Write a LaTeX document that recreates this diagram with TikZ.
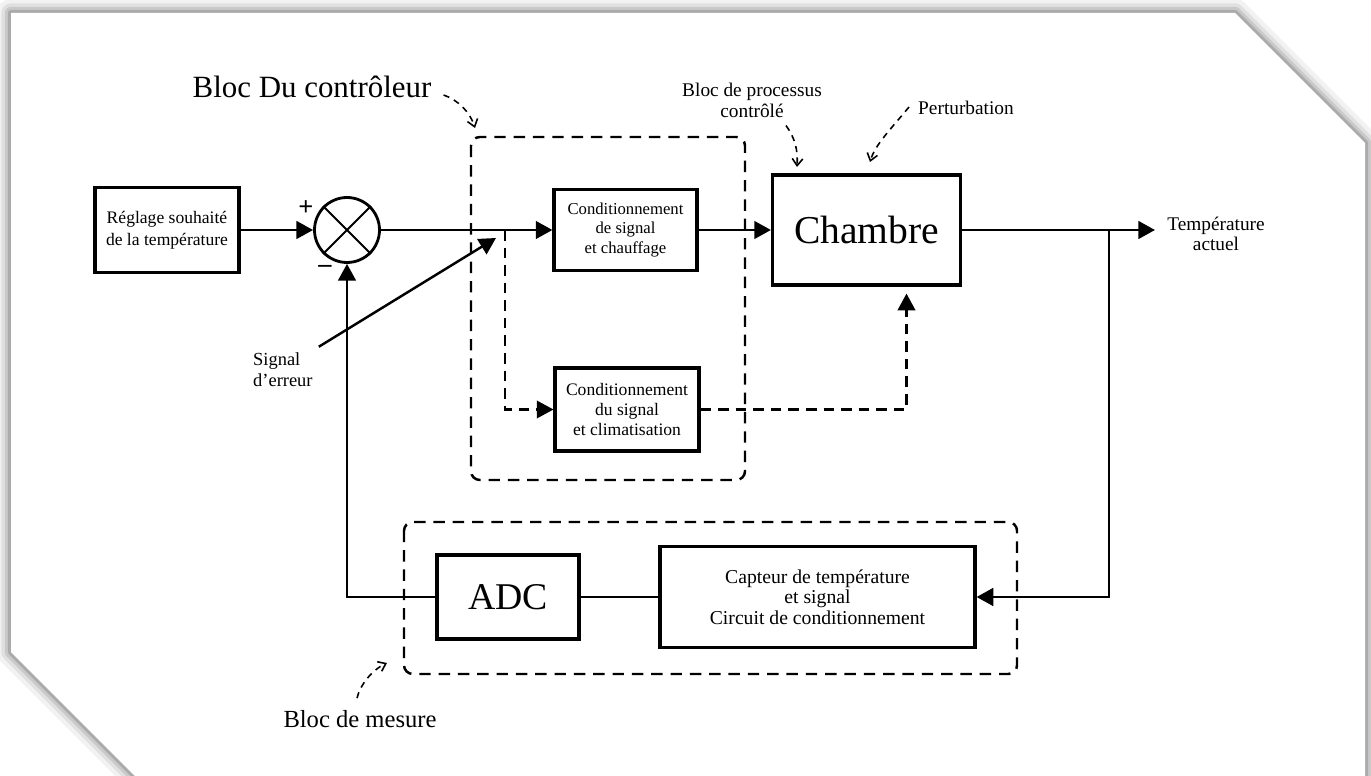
\documentclass[tikz,border=0pt]{standalone}
\usepackage{fontspec}
\setmainfont{Liberation Serif}
\usetikzlibrary{positioning,arrows.meta}

\begin{document}
\begin{tikzpicture}[x=0.02cm, y=-0.02cm,
  blk/.style = {draw, line width=1.8pt, shape = rectangle, align = center, inner sep = 2pt},
  grp/.style = {draw, line width=1.4pt, dash pattern=on 6.5pt off 4.5pt, rounded corners=5pt},
  sig/.style = {line width=1.6pt, -{Triangle[length=9.5pt,width=10pt]}},
  dsig/.style = {line width=1.2pt, dash pattern=on 6pt off 4pt, -{Triangle[length=9.5pt,width=10pt]}},
  note/.style = {line width=0.9pt, dash pattern=on 3.5pt off 3pt, -{Straight Barb[length=4pt,width=6pt]}}
]
\useasboundingbox (0,0) rectangle (1371,776);
\fill[white] (0,0) rectangle (1371,776);
% page with cut corners
\foreach \w/\o in {16/0.05, 11/0.07, 7/0.1, 3.5/0.15}
  \draw[line width=\w pt, black, opacity=\o, line join=round]
    (11,13) -- (1235,13) -- (1365,143) -- (1365,830) -- (189,830) -- (11,652) -- cycle;
\fill[white] (11,13) -- (1235,13) -- (1365,143) -- (1365,830) -- (189,830) -- (11,652) -- cycle;

% blocks
\node[blk, minimum width = 2.88cm, minimum height = 1.7cm, font = \fontsize{10}{12.3}\selectfont] (regl) at (167,230) {Réglage souhaité\\de la température};
\node[draw, circle, line width=1.6pt, minimum size = 1.3cm] (sum) at (347,230) {};
\draw[line width=1.1pt] (sum.north west) -- (sum.south east) (sum.north east) -- (sum.south west);
\node[font = \bfseries\fontsize{15}{15}\selectfont] (plus) at (306,208) {+};
\node[font = \bfseries\fontsize{15}{15}\selectfont] (minus) at (325,269) {–};
\node[blk, minimum width = 2.86cm, minimum height = 1.62cm, font = \fontsize{9.5}{11}\selectfont] (heat) at (625.5,230) {Conditionnement\\de signal\\et chauffage};
\node[blk, minimum width = 2.88cm, minimum height = 1.66cm, font = \fontsize{10}{11.5}\selectfont] (cool) at (627,409.5) {Conditionnement\\du signal\\et climatisation};
\node[blk, minimum width = 3.76cm, minimum height = 2.2cm, font = \fontsize{22.5}{24}\selectfont] (cham) at (866.5,230) {Chambre};
\node[blk, minimum width = 2.84cm, minimum height = 1.68cm, font = \fontsize{21.5}{24}\selectfont] (adc) at (508,597) {ADC};
\node[blk, minimum width = 6.3cm, minimum height = 2.02cm, font = \fontsize{11.2}{11.7}\selectfont] (capt) at (817.5,597) {Capteur de température\\et signal\\Circuit de conditionnement};

% groups
\draw[grp] (471,137) rectangle (745,480);
\draw[grp] (404,522) rectangle (1017,674);

% labels
\node[font = \fontsize{17.6}{20}\selectfont] (ctrl) at (312,87) {Bloc Du contrôleur};
\node[font = \fontsize{11}{12}\selectfont, align = center] (proc) at (752,100) {Bloc de processus\\contrôlé};
\node[font = \fontsize{11}{12}\selectfont] (pert) at (966,108) {Perturbation};
\node[font = \fontsize{14}{16}\selectfont] (mes) at (360,719) {Bloc de mesure};
\node[font = \fontsize{11}{11.5}\selectfont, align = center] (tout) at (1216,234) {Température\\actuel};
\node[font = \fontsize{10.5}{12}\selectfont, align = left, anchor = west] (err) at (247,370) {Signal\\d'erreur};

% signal paths
\coordinate (split) at (505,230);
\coordinate (tap) at (1109,230);
\coordinate (out) at (1155,230);
\coordinate (errtip) at (496,238);
\draw[sig] (regl) -- (sum);
\draw[sig] (sum) -- (heat);
\draw[sig] (heat) -- (cham);
\draw[sig] (cham.east) -- (out);
\draw[sig] (tap) |- (capt.east);
\draw[line width=1.6pt] (capt.west) -- (adc.east);
\draw[sig] (adc.west) -| (sum.south);
\draw[dsig] (split) |- (cool.west);
\draw[dsig, shorten >=4pt] (cool.east) -| ([xshift=0.8cm]cham.south);
\draw[sig, line width=1.4pt] (err.north east) -- (errtip);

% notes
\coordinate (ctrltip) at (475,128);
\coordinate (proctip) at (797,167);
\coordinate (perttip) at (870,162);
\coordinate (mestip) at (387,663);
\draw[note] ([shift={(6,8)}]ctrl.east) .. controls (458,100) and (470,112) .. (ctrltip);
\draw[note] ([shift={(34,2)}]proc.south) .. controls (795,138) and (798,150) .. (proctip);
\draw[note] ([shift={(-57,12)}]pert.north) .. controls (890,130) and (875,145) .. (perttip);
\draw[note] ([shift={(-3,-6)}]mes.north) .. controls (360,685) and (372,670) .. (mestip);
\end{tikzpicture}
\end{document}
